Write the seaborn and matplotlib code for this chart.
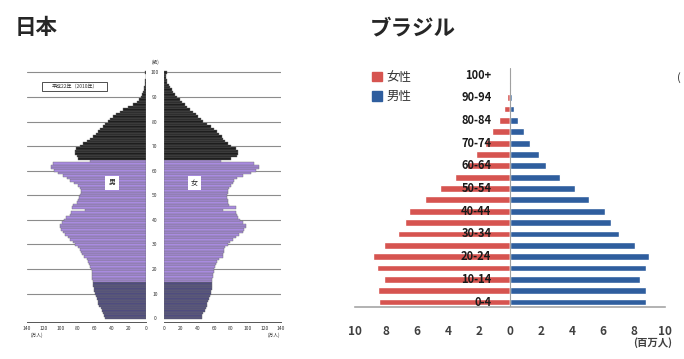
import matplotlib
matplotlib.use('Agg')
import matplotlib.pyplot as plt
from matplotlib.patches import Patch, Rectangle
import pandas as pd
import seaborn as sns

# Japan 2010, single years of age 0-100 (unit: 10k people)
jp_ages = list(range(101))
jp_men = [48, 50, 51, 52, 53, 55, 56, 57, 58, 59,
          60, 61, 61, 62, 62, 62, 63, 63, 63, 64,
          65, 66, 67, 68, 70, 73, 75, 77, 78, 80,
          83, 86, 89, 92, 95, 98, 100, 101, 101, 99,
          97, 94, 90, 88, 72, 87, 86, 81, 80, 79,
          78, 77, 77, 78, 80, 85, 89, 93, 98, 103,
          108, 112, 112, 109, 66, 80, 81, 83, 84, 82,
          78, 74, 70, 66, 62, 59, 57, 54, 51, 48,
          45, 42, 39, 35, 31, 27, 21, 15, 11, 8,
          6, 4.5, 3.5, 2.5, 2, 1.5, 1, 0.7, 0.5, 0.3, 0.6]
jp_women = [45, 46, 47, 48.5, 50, 51, 52, 53, 54, 55,
            56, 56.5, 57, 57.5, 58, 58, 58, 58.5, 59, 59.5,
            60, 61, 62, 64, 66, 70, 71, 72, 72, 73,
            76, 79, 82, 86, 90, 94, 96, 98, 98, 94,
            91, 89, 87, 86, 70, 86, 78, 77, 76, 75,
            75, 76, 77, 78, 80, 82, 84, 87, 94, 104,
            110, 114, 114, 108, 68, 80, 87, 88, 88, 86,
            80, 76, 73, 71, 69, 66, 64, 60, 56, 51,
            47, 44, 41, 38, 35, 31, 28, 25, 22, 19,
            16, 13, 11, 9, 7, 5.5, 4, 3, 2.5, 2, 4]
jp_ticks = [0, 20, 40, 60, 80, 100, 120, 140]

# Brazil, 5-year groups (unit: million)
br_groups = ['0-4', '5-9', '10-14', '15-19', '20-24', '25-29', '30-34',
             '35-39', '40-44', '45-49', '50-54', '55-59', '60-64', '65-69',
             '70-74', '75-79', '80-84', '85-89', '90-94', '95-99', '100+']
br_female = [8.43, 8.5, 8.1, 8.56, 8.86, 8.13, 7.23, 6.8, 6.52, 5.5, 4.54,
             3.53, 2.8, 2.2, 1.6, 1.18, 0.69, 0.4, 0.17, 0.06, 0.03]
br_male = [8.77, 8.77, 8.4, 8.8, 8.97, 8.04, 7.03, 6.52, 6.15, 5.11, 4.19,
           3.23, 2.34, 1.85, 1.27, 0.9, 0.54, 0.24, 0.1, 0.04, 0.02]
br_ticks = [-10, -8, -6, -4, -2, 0, 2, 4, 6, 8, 10]

sns.set_style('white')
plt.rcParams['font.family'] = ['Noto Sans CJK JP', 'DejaVu Sans']

W, H = 684, 359
fig = plt.figure(figsize=(W / 100, H / 100), dpi=100)


def px_axes(x0, y0, x1, y1):
    return fig.add_axes([x0 / W, 1 - y1 / H, (x1 - x0) / W, (y1 - y0) / H])


def px_text(x, y, s, **kw):
    fig.text(x / W, 1 - y / H, s, **kw)


# ---------------- Japan ----------------
def age_group(a):
    if a < 15:
        return '0-14'
    return '15-64' if a < 65 else '65+'


jp = pd.DataFrame({'age': jp_ages, 'men': jp_men, 'women': jp_women})
jp['grp'] = [age_group(a) for a in jp_ages]
jp_pal = {'0-14': '#4f4c7e', '15-64': '#a98be0', '65+': '#1e1e1e'}

ax_m = px_axes(27, 70, 146, 322)
ax_w = px_axes(164, 70, 281, 322)
for ax, col in [(ax_m, 'men'), (ax_w, 'women')]:
    for a in range(10, 101, 10):
        ax.axhline(a, color='#8c8c8c', lw=0.8, zorder=0)
    sns.barplot(data=jp, x=col, y='age', hue='grp', palette=jp_pal,
                orient='h', native_scale=True, width=1, dodge=False,
                saturation=1, errorbar=None, edgecolor='#6e6e6e',
                linewidth=0.3, legend=False, ax=ax, zorder=2)
    ax.set_ylim(-1.6, 101)
    ax.set_xticks(jp_ticks)
    ax.set_xticklabels([str(t) for t in jp_ticks])
    ax.tick_params(axis='x', labelsize=3.6, length=1.5, width=0.5,
                   pad=1.5, colors='#333333')
    ax.set_xlabel('')
    ax.set_ylabel('')
    for s in ['top', 'left', 'right']:
        ax.spines[s].set_visible(False)
    ax.spines['bottom'].set_color('#555555')
    ax.spines['bottom'].set_linewidth(0.7)

ax_m.set_xlim(140, 0)
ax_w.set_xlim(0, 140)
ax_m.set_yticks([])
ax_w.set_yticks(range(0, 101, 10))
ax_w.set_yticklabels([str(a) for a in range(0, 101, 10)])
ax_w.tick_params(axis='y', labelsize=3.6, length=0, pad=6.5,
                 colors='#333333')
for lab in ax_w.get_yticklabels():
    lab.set_ha('center')

px_text(155, 62, '(歳)', fontsize=3.4, ha='center', va='center',
        color='#333333')
px_text(37, 335, '(万人)', fontsize=3.4, ha='center', va='center',
        color='#333333')
px_text(274, 335, '(万人)', fontsize=3.4, ha='center', va='center',
        color='#333333')
fig.patches.append(Rectangle((42 / W, 1 - 91 / H), 65 / W, 9 / H,
                             transform=fig.transFigure, fc='white',
                             ec='#333333', lw=0.6, zorder=5))
px_text(74.5, 86.5, '平成22年（2010年）', fontsize=3.6, ha='center',
        va='center', color='#333333', zorder=6)
for x, s in [(112, '男'), (194.5, '女')]:
    px_text(x, 183, s, fontsize=5, ha='center', va='center', color='#222222',
            bbox=dict(boxstyle='square,pad=0.45', fc='white', ec='none'))

# ---------------- Brazil ----------------
br_red = '#d65450'
br_blue = '#2f5e9e'
br = pd.DataFrame({'group': br_groups,
                   'female': [-v for v in br_female],
                   'male': br_male})
order = br_groups[::-1]

ax_b = px_axes(355, 68, 665, 306.7)
sns.barplot(data=br, x='female', y='group', order=order, color=br_red,
            orient='h', width=0.6, saturation=1, errorbar=None, ax=ax_b)
sns.barplot(data=br, x='male', y='group', order=order, color=br_blue,
            orient='h', width=0.6, saturation=1, errorbar=None, ax=ax_b)
ax_b.set_xlim(-10, 10)
ax_b.set_ylim(20.41, -0.62)
ax_b.axvline(0, color='#a0a0a0', lw=0.8, zorder=3)
ax_b.set_yticks([])
ax_b.set_xlabel('')
ax_b.set_ylabel('')
ax_b.set_xticks(br_ticks)
ax_b.set_xticklabels([str(abs(t)) for t in br_ticks])
ax_b.tick_params(axis='x', direction='in', length=3, width=1,
                 color='#a6a6a6', labelsize=8.5, labelcolor='#404040',
                 pad=13)
for lab in ax_b.get_xticklabels():
    lab.set_fontweight('bold')
for s in ['top', 'left', 'right']:
    ax_b.spines[s].set_visible(False)
ax_b.spines['bottom'].set_color('#a6a6a6')
ax_b.spines['bottom'].set_linewidth(1.2)

for g in br_groups[::2]:
    ax_b.text(-1.2, order.index(g), g, ha='right', va='center',
              fontsize=8, fontweight='bold', color='#1a1a1a', zorder=4)

ax_b.legend(handles=[Patch(color=br_red, label='女性'),
                     Patch(color=br_blue, label='男性')],
            loc='upper left', bbox_to_anchor=(372 / W, 1 - 71 / H),
            bbox_transform=fig.transFigure, frameon=False, fontsize=9,
            handlelength=0.8, handleheight=0.8, handletextpad=0.35,
            labelspacing=0.5, borderpad=0, borderaxespad=0,
            labelcolor='#333333')

px_text(653, 343, '(百万人)', fontsize=7.5, fontweight='bold', ha='center',
        va='center', color='#404040')
px_text(677, 78, '(', fontsize=8, ha='left', va='center', color='#333333')

# ---------------- titles ----------------
px_text(15, 28, '日本', fontsize=15.5, fontweight='bold', va='center')
px_text(370, 28, 'ブラジル', fontsize=15.5, fontweight='bold', va='center')

fig.savefig('out.png', dpi=100)
